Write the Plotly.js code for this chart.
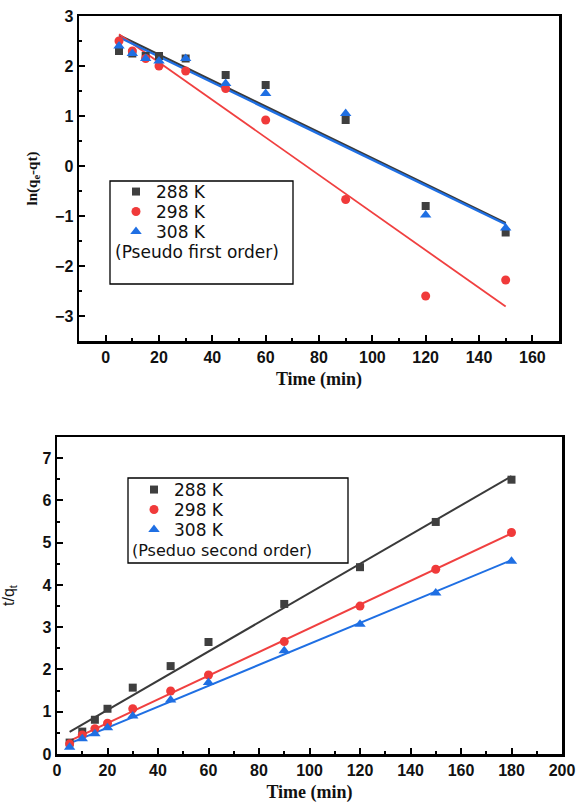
<!DOCTYPE html>
<html><head><meta charset="utf-8">
<script src="https://cdn.plot.ly/plotly-3.0.1.min.js"></script>
<style>html,body{margin:0;padding:0;background:#fff}#chart{width:581px;height:808px}</style>
</head><body><div id="chart"></div>
<script>
// ---- data ----
const timeFirst = [5, 10, 15, 20, 30, 45, 60, 90, 120, 150];
const lnFirst288 = [2.3, 2.25, 2.2, 2.2, 2.15, 1.82, 1.62, 0.92, -0.8, -1.33];
const lnFirst298 = [2.5, 2.3, 2.15, 2.0, 1.9, 1.55, 0.92, -0.67, -2.6, -2.28];
const lnFirst308 = [2.4, 2.25, 2.15, 2.1, 2.15, 1.65, 1.45, 1.05, -0.98, -1.24];

const timeSecond = [5, 10, 15, 20, 30, 45, 60, 90, 120, 150, 180];
const tq288 = [0.27, 0.53, 0.81, 1.07, 1.57, 2.08, 2.65, 3.55, 4.42, 5.49, 6.49];
const tq298 = [0.24, 0.45, 0.6, 0.73, 1.07, 1.49, 1.87, 2.66, 3.5, 4.37, 5.24];
const tq308 = [0.16, 0.36, 0.48, 0.62, 0.9, 1.28, 1.69, 2.44, 3.07, 3.81, 4.56];

const seriesNames = ['288 K', '298 K', '308 K'];
const seriesColors = ['#3f3f3f', '#f03a3a', '#1f6fe3'];
const lineColors = ['#3a3a3a', '#f04040', '#1f6fe3'];
const seriesSymbols = ['square', 'circle', 'triangle-up'];
const legendNote1 = '(Pseudo first order)';
const legendNote2 = '(Pseduo second order)';

// least-squares fit line across the data's x span
function fitLine(xs, ys) {
  const n = xs.length;
  const mx = xs.reduce((a, b) => a + b, 0) / n;
  const my = ys.reduce((a, b) => a + b, 0) / n;
  let sxy = 0, sxx = 0;
  for (let i = 0; i < n; i++) { sxy += (xs[i] - mx) * (ys[i] - my); sxx += (xs[i] - mx) ** 2; }
  const b = sxy / sxx, a = my - b * mx;
  const x0 = Math.min(...xs), x1 = Math.max(...xs);
  return { x: [x0, x1], y: [a + b * x0, a + b * x1] };
}

const firstSets = [lnFirst288, lnFirst298, lnFirst308];
const secondSets = [tq288, tq298, tq308];
const markerSizes = [8, 9, 10];
const topLegends = ['legend', 'legend2', 'legend3'];
const botLegends = ['legend4', 'legend5', 'legend6'];

const traces = [];
firstSets.forEach((ys, i) => {
  const f = fitLine(timeFirst, ys);
  traces.push({ x: f.x, y: f.y, mode: 'lines', xaxis: 'x', yaxis: 'y', showlegend: false,
    line: { color: lineColors[i], width: i === 1 ? 1.8 : 2.4 }, hoverinfo: 'skip' });
});
firstSets.forEach((ys, i) => {
  traces.push({ x: timeFirst, y: ys, mode: 'markers', name: seriesNames[i], xaxis: 'x', yaxis: 'y',
    legend: topLegends[i], marker: { symbol: seriesSymbols[i], color: seriesColors[i], size: markerSizes[i] } });
});
secondSets.forEach((ys, i) => {
  const f = fitLine(timeSecond, ys);
  traces.push({ x: f.x, y: f.y, mode: 'lines', xaxis: 'x2', yaxis: 'y2', showlegend: false,
    line: { color: lineColors[i], width: 2 }, hoverinfo: 'skip' });
});
secondSets.forEach((ys, i) => {
  traces.push({ x: timeSecond, y: ys, mode: 'markers', name: seriesNames[i], xaxis: 'x2', yaxis: 'y2',
    legend: botLegends[i], marker: { symbol: seriesSymbols[i], color: seriesColors[i], size: markerSizes[i] } });
});

const W = 581, H = 808;
const px = v => v / W, py = v => (H - v) / H;

const tickFont = { family: 'Liberation Sans, Arial, sans-serif', size: 16, color: '#111', weight: 'bold' };
function axis(extra) {
  return Object.assign({
    showline: true, linewidth: 2.5, linecolor: '#000', mirror: true,
    ticks: 'inside', ticklen: 6, tickwidth: 2, tickcolor: '#000',
    showgrid: false, zeroline: false, tickfont: tickFont, automargin: false
  }, extra);
}
const minorX = { ticks: 'inside', ticklen: 3, tickwidth: 2, tickcolor: '#000', dtick: 10, showgrid: false };
const minorY = { ticks: 'inside', ticklen: 3, tickwidth: 2, tickcolor: '#000', dtick: 0.5, showgrid: false };
const timeTitleFont = { family: 'Liberation Serif, Times New Roman, serif', size: 18, color: '#111', weight: 'bold' };
const legFont = { family: 'DejaVu Sans, sans-serif', size: 17, color: '#111' };

function legendAt(xPix, centerY) {
  return { x: px(xPix), y: py(centerY - 16), xanchor: 'left', yanchor: 'top', bgcolor: 'rgba(0,0,0,0)',
    borderwidth: 0, font: legFont, itemclick: false };
}

const layout = {
  width: W, height: H,
  margin: { l: 0, r: 0, t: 0, b: 0 },
  paper_bgcolor: '#fff', plot_bgcolor: '#fff',
  showlegend: true,
  xaxis: axis({ domain: [px(79), px(559)], range: [-10, 170], dtick: 20, tick0: 0, anchor: 'y', minor: minorX,
    title: { text: 'Time (min)', font: timeTitleFont, standoff: 8 } }),
  yaxis: axis({ domain: [py(341), py(16)], range: [-3.5, 3], dtick: 1, tick0: 0, anchor: 'x', minor: minorY,
    title: { text: 'ln(q<sub>e</sub>-qt)', font: { family: 'Liberation Serif, Times New Roman, serif', size: 15, color: '#111', weight: 'bold' }, standoff: 14 } }),
  xaxis2: axis({ domain: [px(57), px(562)], range: [0, 200], dtick: 20, tick0: 0, anchor: 'y2', minor: minorX,
    title: { text: 'Time (min)', font: timeTitleFont, standoff: 8 } }),
  yaxis2: axis({ domain: [py(754), py(437)], range: [0, 7.5], dtick: 1, tick0: 0, anchor: 'x2', minor: minorY,
    title: { text: 't/q<sub>t</sub>', font: { family: 'Liberation Sans, Arial, sans-serif', size: 16, color: '#111' }, standoff: 24 } }),
  legend: legendAt(116, 190),
  legend2: legendAt(116, 210),
  legend3: legendAt(116, 230),
  legend4: legendAt(134, 488),
  legend5: legendAt(134, 508),
  legend6: legendAt(134, 528),
  shapes: [
    { type: 'rect', xref: 'paper', yref: 'paper', x0: px(110), x1: px(293), y0: py(284), y1: py(181), line: { color: '#000', width: 1.3 } },
    { type: 'rect', xref: 'paper', yref: 'paper', x0: px(128), x1: px(348), y0: py(563), y1: py(478), line: { color: '#000', width: 1.3 } }
  ],
  annotations: [
    { text: legendNote1, xref: 'paper', yref: 'paper', x: px(113), y: py(252), xanchor: 'left', yanchor: 'middle', showarrow: false,
      font: { family: 'DejaVu Sans, sans-serif', size: 17, color: '#111' } },
    { text: legendNote2, xref: 'paper', yref: 'paper', x: px(130), y: py(550), xanchor: 'left', yanchor: 'middle', showarrow: false,
      font: { family: 'DejaVu Sans, sans-serif', size: 16, color: '#111' } }
  ]
};

Plotly.newPlot('chart', traces, layout, { staticPlot: true, displayModeBar: false });
</script>
</body></html>
